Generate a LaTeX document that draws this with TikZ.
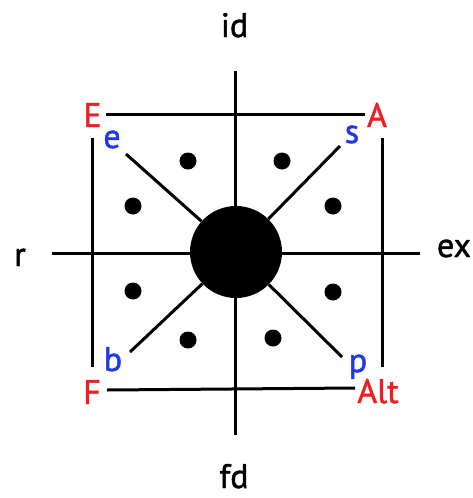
\documentclass[tikz,border=0pt]{standalone}
\usepackage{fontspec}
\setmainfont{PT Sans}[FakeBold=1.4]
\definecolor{lblred}{RGB}{236,32,36}
\definecolor{lblblue}{RGB}{32,56,236}
\begin{document}
\begin{tikzpicture}[x=1pt,y=-1pt,
  lbl/.style={anchor=base,inner sep=0pt,font=\fontsize{34}{40}\selectfont},
  redlbl/.style={lbl,text=lblred},
  bluelbl/.style={lbl,text=lblblue},
  ln/.style={line width=3pt},
  dot/.style={circle,fill=black,inner sep=0pt,minimum size=17pt}]
\useasboundingbox (0,0) rectangle (472,498);
% axes
\coordinate (vt) at (235.5,71);
\coordinate (vb) at (235.5,435);
\coordinate (hl) at (52,253);
\coordinate (hr) at (420,253);
\draw[ln] (vt) -- (vb);
\draw[ln] (hl) -- (hr);
% centre disc
\node[circle,fill=black,inner sep=0pt,minimum size=92pt] (c) at (236,252) {};
% square sides
\coordinate (t1) at (106,114); \coordinate (t2) at (365,114);
\coordinate (l1) at (92,138);  \coordinate (l2) at (92,367);
\coordinate (r1) at (382,138); \coordinate (r2) at (382,367);
\coordinate (b1) at (107,390); \coordinate (b2) at (355,388);
\draw[ln] (t1) -- (t2);
\draw[ln] (l1) -- (l2);
\draw[ln] (r1) -- (r2);
\draw[ln] (b1) -- (b2);
% diagonals
\coordinate (de) at (126,154);
\coordinate (ds) at (340,146);
\coordinate (db) at (130,352);
\coordinate (dp) at (342,357);
\draw[ln] (de) -- (c);
\draw[ln] (ds) -- (c);
\draw[ln] (db) -- (c);
\draw[ln] (dp) -- (c);
% dots
\node[dot] (d1) at (188,161) {};
\node[dot] (d2) at (282,161) {};
\node[dot] (d3) at (133,206) {};
\node[dot] (d4) at (333,206) {};
\node[dot] (d5) at (133,291) {};
\node[dot] (d6) at (333,292) {};
\node[dot] (d7) at (188,340) {};
\node[dot] (d8) at (273,338) {};
% labels
\node[lbl] (id) at (234.5,37) {id};
\node[lbl] (fd) at (234,488) {fd};
\node[lbl] (r) at (20,266) {r};
\node[lbl] (ex) at (454,257) {ex};
\node[redlbl] (E) at (92.5,127) {E};
\node[redlbl] (A) at (377,127) {A};
\node[redlbl] (F) at (92,404) {F};
\node[redlbl] (Alt) at (378,403) {Alt};
\node[bluelbl] (e) at (112,148) {e};
\node[bluelbl] (s) at (352,143) {s};
\node[bluelbl] (b) at (113,371) {b};
\node[bluelbl] (p) at (358,372) {p};
\end{tikzpicture}
\end{document}
